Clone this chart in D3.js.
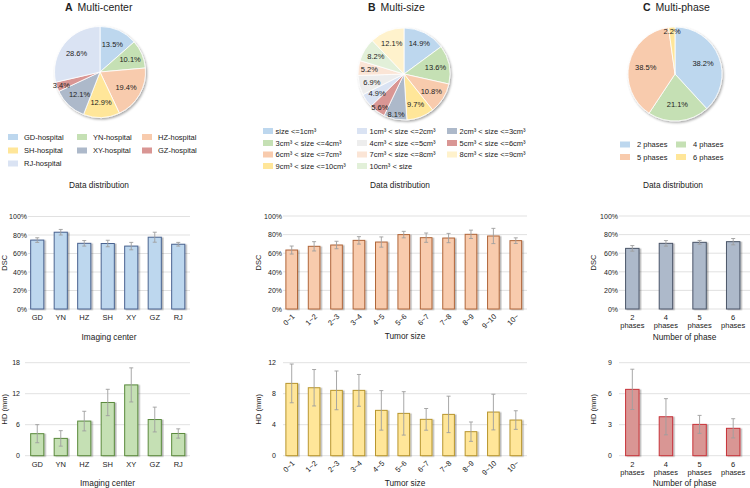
<!DOCTYPE html>
<html><head><meta charset="utf-8">
<script src="https://cdn.jsdelivr.net/npm/d3@7"></script>
<style>
html,body{margin:0;padding:0;background:#fff;}
svg text{font-family:"Liberation Sans",Arial,Helvetica,sans-serif;fill:#222;}
</style></head>
<body><svg id="c" width="750" height="488"></svg>
<script>
// ---------- DATA ----------
const centerCats = ["GD","YN","HZ","SH","XY","GZ","RJ"];
const centerLegend = ["GD-hospital","YN-hospital","HZ-hospital","SH-hospital","XY-hospital","GZ-hospital","RJ-hospital"];
const centerShare = [13.5,10.1,19.4,12.9,12.1,3.4,28.6];
const centerDSC = [74.5,83,71,70.8,68,77.6,70];
const centerDSCerr = [2.5,3,3,3.5,4,5.4,2];
const centerHD = [4.26,3.35,6.7,10.3,13.7,7.0,4.3];
const centerHDerr = [1.75,1.5,1.9,2.55,3.3,2.4,0.9];

const sizeCats = ["0~1","1~2","2~3","3~4","4~5","5~6","6~7","7~8","8~9","9~10","10~"];
const sizeLegend = ["size <=1cm³","1cm³ < size <=2cm³","2cm³ < size <=3cm³","3cm³ < size <=4cm³","4cm³ < size <=5cm³","5cm³ < size <=6cm³","6cm³ < size <=7cm³","7cm³ < size <=8cm³","8cm³ < size <=9cm³","9cm³ < size <=10cm³","10cm³ < size"];
const sizeShare = [14.9,4.9,8.1,13.6,6.9,5.6,10.8,5.2,12.1,9.7,8.2];
const sizePieOrder = [0,3,6,9,2,5,1,4,7,10,8];
const sizeDSC = [63.4,67.4,68.8,73.8,72,80,76.7,76.3,80.3,78.5,73.5];
const sizeDSCerr = [4.3,5,4,4,5.5,3.5,5,5,4.5,8.2,3];
const sizeHD = [9.33,8.77,8.43,8.43,5.85,5.46,4.69,5.33,3.1,5.63,4.6];
const sizeHDerr = [2.5,2.35,2.5,2.05,2.55,2.8,1.4,2.35,1.25,2.3,1.2];

const phaseCats = ["2","4","5","6"];
const phaseLegend = ["2 phases","4 phases","5 phases","6 phases"];
const phaseShare = [38.2,21.1,38.5,2.2];
const phaseDSC = [65.2,70.6,71.7,72.4];
const phaseDSCerr = [3,3,2,3.4];
const phaseHD = [6.42,3.77,3.03,2.65];
const phaseHDerr = [1.95,1.75,0.87,0.93];

const dscTicks = [0,20,40,60,80,100];
const centerHDTicks = [0,6,12,18];
const sizeHDTicks = [0,4,8,12];
const phaseHDTicks = [0,3,6,9];

// ---------- STYLE ----------
const centerColors = ["#bdd7ee","#c5e0b4","#f8cbad","#ffe699","#adb9ca","#d99694","#dae3f3"];
const sizeColors = ["#bdd7ee","#dae3f3","#adb9ca","#c5e0b4","#ededed","#d99694","#f8cbad","#fbe5d6","#fff2cc","#ffe699","#e2f0d9"];
const phaseColors = ["#bdd7ee","#c5e0b4","#f8cbad","#ffe699"];
// label radius factors (style), in pie drawing order
const centerLabelR = [0.66,0.72,0.66,0.66,0.66,0.9,0.66];
const sizeLabelR = [0.74,0.7,0.7,0.7,0.9,0.9,0.72,0.72,0.76,0.72,0.72];
const phaseLabelR = [0.64,0.64,0.64,0.9];

const svg = d3.select("#c");
const defs = svg.append("defs");
const f1 = defs.append("filter").attr("id","pieShadow").attr("x","-20%").attr("y","-20%").attr("width","140%").attr("height","140%");
f1.append("feDropShadow").attr("dx",1.2).attr("dy",1.5).attr("stdDeviation",1.3).attr("flood-color","#000").attr("flood-opacity",0.35);
const f2 = defs.append("filter").attr("id","barShadow").attr("x","-30%").attr("y","-10%").attr("width","160%").attr("height","120%");
f2.append("feDropShadow").attr("dx",1.6).attr("dy",0.6).attr("stdDeviation",0.7).attr("flood-color","#000").attr("flood-opacity",0.28);

function title(x, letter, text){
  const t = svg.append("text").attr("x",x).attr("y",11).attr("font-size",10.5);
  t.append("tspan").attr("font-weight","bold").text(letter);
  t.append("tspan").attr("dx",5).text(text);
}
title(65,"A","Multi-center");
title(368,"B","Multi-size");
title(643,"C","Multi-phase");

function pie(cx, cy, r, values, colors, order, ratios){
  const items = order.map(i => ({v: values[i], c: colors[i]}));
  const arcs = d3.pie().sort(null).value(d => d.v)(items);
  const g = svg.append("g").attr("transform",`translate(${cx},${cy})`);
  const gs = g.append("g").attr("filter","url(#pieShadow)");
  const arc = d3.arc().innerRadius(0).outerRadius(r);
  gs.selectAll("path").data(arcs).join("path").attr("d",arc)
    .attr("fill",d=>d.data.c).attr("stroke","#fff").attr("stroke-width",0.8);
  arcs.forEach((a,k)=>{
    const rr = r*ratios[k];
    const la = d3.arc().innerRadius(rr).outerRadius(rr);
    const p = la.centroid(a);
    g.append("text").attr("x",p[0]).attr("y",p[1]).attr("dy","0.35em")
      .attr("text-anchor","middle").attr("font-size",7.5).text(a.data.v.toFixed(1)+"%");
  });
}
pie(100,72,45.5,centerShare,centerColors,d3.range(centerShare.length),centerLabelR);
pie(404,74,46,sizeShare,sizeColors,sizePieOrder,sizeLabelR);
pie(675,74,47,phaseShare,phaseColors,d3.range(phaseShare.length),phaseLabelR);

function legend(labels, colors, cols, xs, ys, gap){
  labels.forEach((l,i)=>{
    const c = i % cols, rI = Math.floor(i/cols);
    const x = xs[c], y = ys[rI];
    svg.append("rect").attr("x",x).attr("y",y-3).attr("width",10).attr("height",6).attr("fill",colors[i]);
    svg.append("text").attr("x",x+gap).attr("y",y).attr("dy","0.35em").attr("font-size",7.5).text(l);
  });
}
legend(centerLegend,centerColors,3,[8,77,142],[137,150.5,163.5],16);
legend(sizeLegend,sizeColors,3,[263,357,447],[131,143,154.5,166],12.5);
legend(phaseLegend,phaseColors,2,[620,676],[144.5,157],17);

[[99,"Data distribution"],[400,"Data distribution"],[673,"Data distribution"]].forEach(([x,t])=>{
  svg.append("text").attr("x",x).attr("y",188).attr("text-anchor","middle").attr("font-size",8.3).text(t);
});

function bars(o){
  const g = svg.append("g");
  const x = d3.scaleBand().domain(o.cats).range([o.x0,o.x1]).paddingInner(o.pad).paddingOuter(o.pad/2);
  const y = d3.scaleLinear().domain([0,o.ymax]).range([o.yb,o.yt]);
  g.selectAll(".grid").data(o.ticks).join("line")
    .attr("x1",o.gx0).attr("x2",o.x1).attr("y1",d=>y(d)).attr("y2",d=>y(d))
    .attr("stroke","#d9d9d9").attr("stroke-width",0.8);
  const ya = d3.axisLeft(y).tickValues(o.ticks).tickSize(0).tickPadding(0).tickFormat(o.fmt);
  const ag = g.append("g").attr("transform",`translate(${o.lx},0)`).call(ya);
  ag.select(".domain").remove();
  ag.selectAll("text").attr("font-size",7).attr("fill","#222").style("font-family","Liberation Sans, Arial");
  const bg = g.append("g").attr("filter","url(#barShadow)");
  bg.selectAll("rect").data(o.vals).join("rect")
    .attr("x",(d,i)=>x(o.cats[i])).attr("width",x.bandwidth())
    .attr("y",d=>y(d)).attr("height",d=>y(0)-y(d))
    .attr("fill",o.fill).attr("stroke",o.stroke).attr("stroke-width",1);
  o.vals.forEach((v,i)=>{
    const cx = x(o.cats[i]) + x.bandwidth()/2;
    const e = o.errs[i];
    g.append("line").attr("x1",cx).attr("x2",cx).attr("y1",y(v+e)).attr("y2",y(v-e)).attr("stroke","#9e9e9e").attr("stroke-width",0.9);
    [v+e,v-e].forEach(t=>g.append("line").attr("x1",cx-2).attr("x2",cx+2).attr("y1",y(t)).attr("y2",y(t)).attr("stroke","#9e9e9e").attr("stroke-width",0.9));
  });
  const xa = d3.axisBottom(x).tickSize(0).tickPadding(0);
  const xg = g.append("g").attr("transform",`translate(0,${o.yb})`).call(xa);
  xg.select(".domain").remove();
  xg.selectAll("text").attr("font-size",7.5).attr("fill","#222").style("font-family","Liberation Sans, Arial");
  if(o.rotate){
    xg.selectAll("text").attr("text-anchor","end").attr("dy",0).attr("y",0)
      .attr("transform","translate(3.5,8) rotate(-45)");
  } else {
    xg.selectAll("text").attr("y",8.5).attr("dy","0.35em");
  }
  if(o.second){
    xg.selectAll(".tick").append("text").attr("y",19).attr("fill","#222")
      .attr("font-size",7.5).style("font-family","Liberation Sans, Arial").text(o.second);
  }
  svg.append("text").attr("transform",`translate(${o.ytx},${(o.yb+o.yt)/2}) rotate(-90)`)
    .attr("text-anchor","middle").attr("font-size",7.5).text(o.ytitle);
  svg.append("text").attr("x",(o.gx0+o.x1)/2).attr("y",o.xty).attr("text-anchor","middle").attr("font-size",8.3).text(o.xtitle);
}
const pct = d => d + "%";
bars({cats:centerCats,vals:centerDSC,errs:centerDSCerr,ymax:100,ticks:dscTicks,fmt:pct,x0:25.5,x1:190,gx0:28,lx:27,yb:309,yt:216.5,pad:0.44,fill:"#bdd7ee",stroke:"#4a6390",ytitle:"DSC",ytx:7,xtitle:"Imaging center",xty:340});
bars({cats:centerCats,vals:centerHD,errs:centerHDerr,ymax:18,ticks:centerHDTicks,fmt:d=>d,x0:25.5,x1:190,gx0:25,lx:20,yb:455.7,yt:362.7,pad:0.44,fill:"#c5e0b4",stroke:"#5a8a3c",ytitle:"HD (mm)",ytx:7,xtitle:"Imaging center",xty:486});
bars({cats:sizeCats,vals:sizeDSC,errs:sizeDSCerr,ymax:100,ticks:dscTicks,fmt:pct,x0:280.5,x1:527,gx0:283,lx:282,yb:309,yt:216,pad:0.48,fill:"#f8cbad",stroke:"#b0663a",ytitle:"DSC",ytx:261,xtitle:"Tumor size",xty:339,rotate:true});
bars({cats:sizeCats,vals:sizeHD,errs:sizeHDerr,ymax:12,ticks:sizeHDTicks,fmt:d=>d,x0:280.5,x1:527,gx0:283,lx:276,yb:455.7,yt:362.7,pad:0.48,fill:"#ffe699",stroke:"#b8962e",ytitle:"HD (mm)",ytx:261,xtitle:"Tumor size",xty:486,rotate:true});
bars({cats:phaseCats,vals:phaseDSC,errs:phaseDSCerr,ymax:100,ticks:dscTicks,fmt:pct,x0:615.5,x1:750,gx0:619,lx:618,yb:309,yt:216,pad:0.6,fill:"#adb9ca",stroke:"#4a5568",ytitle:"DSC",ytx:596,xtitle:"Number of phase",xty:340,second:"phases"});
bars({cats:phaseCats,vals:phaseHD,errs:phaseHDerr,ymax:9,ticks:phaseHDTicks,fmt:d=>d,x0:615.5,x1:750,gx0:619,lx:612,yb:455.7,yt:362.7,pad:0.6,fill:"#d99694",stroke:"#c8333a",ytitle:"HD (mm)",ytx:596,xtitle:"Number of phase",xty:486,second:"phases"});
</script></body></html>
